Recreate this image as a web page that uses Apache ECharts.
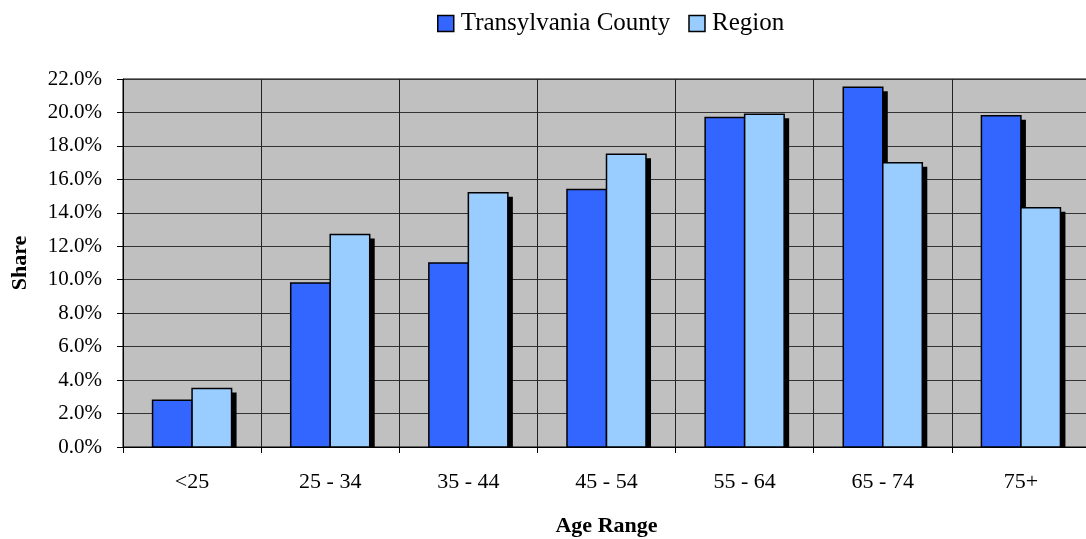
<!DOCTYPE html>
<html>
<head>
<meta charset="utf-8">
<script src="https://cdn.jsdelivr.net/npm/echarts@6/dist/echarts.min.js"></script>
<style>
  html, body { margin: 0; padding: 0; background: #fff; }
  #chart { width: 1086px; height: 539px; }
</style>
</head>
<body>
<div id="chart"></div>
<script>
const ageRanges = ['<25', '25 - 34', '35 - 44', '45 - 54', '55 - 64', '65 - 74', '75+']
const countyShare = [2.8, 9.8, 11.0, 15.4, 19.7, 21.5, 19.8]
const regionShare = [3.5, 12.7, 15.2, 17.5, 19.9, 17.0, 14.3]
const seriesNames = ['Transylvania County', 'Region']
const seriesColors = ['#3366ff', '#99ccff']

const FONT = '"Liberation Serif", "Times New Roman", serif'

const chart = echarts.init(document.getElementById('chart'), null, { renderer: 'canvas' })

// bar with a hard black drop shadow, like the old Excel 2D bars
function makeRenderer(idx) {
  return function (params, api) {
    const cat = api.value(0)
    const val = api.value(1)
    const band = api.size([1, 0])[0]
    const barW = band * 0.286
    const base = api.coord([cat, 0])
    const top = api.coord([cat, val])
    const x = idx === 0 ? base[0] - barW : base[0]
    const h = base[1] - top[1]
    return {
      type: 'group',
      children: [
        {
          type: 'rect',
          shape: { x: x + 5, y: top[1] + 4, width: barW, height: h - 4 },
          style: { fill: '#000' },
        },
        {
          type: 'rect',
          shape: { x: x, y: top[1], width: barW, height: h },
          style: { fill: seriesColors[idx], stroke: '#000', lineWidth: 1.5 },
        },
      ],
    }
  }
}

chart.setOption({
  animation: false,
  backgroundColor: '#fff',
  legend: {
    data: seriesNames,
    left: 432,
    top: 6,
    itemWidth: 16,
    itemHeight: 16,
    itemGap: 18,
    icon: 'rect',
    itemStyle: { borderColor: '#000', borderWidth: 1.5 },
    textStyle: { fontFamily: FONT, fontSize: 25, color: '#000', padding: [0, 0, 0, 2] },
  },
  grid: {
    left: 123,
    top: 79,
    right: -4,
    bottom: 92,
    outerBoundsMode: 'none',
    containLabel: false,
    show: true,
    backgroundColor: '#c0c0c0',
    borderColor: '#000',
    borderWidth: 1,
  },
  xAxis: {
    type: 'category',
    data: ageRanges,
    name: 'Age Range',
    nameLocation: 'middle',
    nameGap: 68,
    nameTextStyle: { fontFamily: FONT, fontSize: 22, fontWeight: 'bold', color: '#000' },
    axisLine: { lineStyle: { color: '#000', width: 1 } },
    axisTick: { show: true, length: 6, inside: false, lineStyle: { color: '#000' } },
    axisLabel: { fontFamily: FONT, fontSize: 22, color: '#000', margin: 24 },
    splitLine: { show: true, lineStyle: { color: '#222', width: 1 } },
  },
  yAxis: {
    type: 'value',
    min: 0,
    max: 22,
    interval: 2,
    name: 'Share',
    nameLocation: 'middle',
    nameGap: 92,
    nameTextStyle: { fontFamily: FONT, fontSize: 22, fontWeight: 'bold', color: '#000' },
    axisLine: { show: true, lineStyle: { color: '#000', width: 1 } },
    axisTick: { show: true, length: 6, lineStyle: { color: '#000' } },
    axisLabel: {
      fontFamily: FONT,
      fontSize: 21,
      color: '#000',
      margin: 21,
      formatter: v => v.toFixed(1) + '%',
    },
    splitLine: { show: true, lineStyle: { color: '#333', width: 1 } },
  },
  series: [0, 1].map(i => ({
    name: seriesNames[i],
    type: 'custom',
    renderItem: makeRenderer(i),
    encode: { x: 0, y: 1 },
    data: (i === 0 ? countyShare : regionShare).map((v, k) => [k, v]),
    itemStyle: { color: seriesColors[i], borderColor: '#000', borderWidth: 1 },
  })),
})

window.addEventListener('resize', () => chart.resize())
</script>
</body>
</html>
